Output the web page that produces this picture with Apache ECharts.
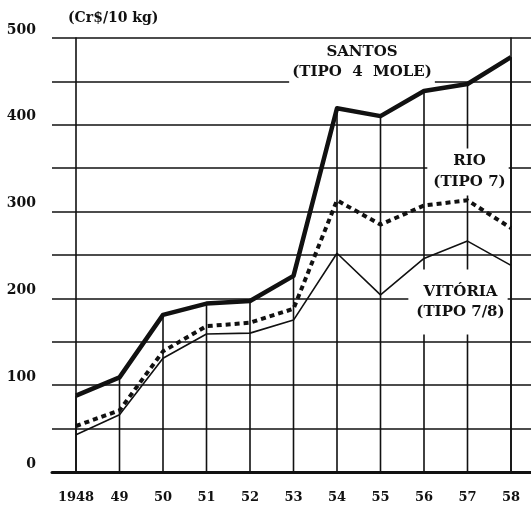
<!DOCTYPE html>
<html><head><meta charset="utf-8">
<script src="https://cdn.jsdelivr.net/npm/echarts@6/dist/echarts.min.js"></script>
<style>html,body{margin:0;padding:0;background:#fff}#c{width:531px;height:507px}</style>
</head><body><div id="c"></div>
<script>
const years = ['1948','49','50','51','52','53','54','55','56','57','58'];
const santos = [88,109,181,194,197,226,419,410,439,447,478];
const rio = [53,71,139,168,172,188,313,285,307,313,281];
const vitoria = [43,66,131,159,160,175,252,204,246,266,238];
const yTickLabels = [0,100,200,300,400,500];
const unitLabel = '(Cr$/10 kg)';
const seriesNames = ['SANTOS\n(TIPO  4  MOLE)','RIO\n(TIPO 7)','VITÓRIA\n(TIPO 7/8)'];

const FONT = 'DejaVu Serif';
const INK = '#111';
const chart = echarts.init(document.getElementById('c'), null, {renderer:'canvas'});
const lab = {fontFamily:FONT,fontWeight:'bold',color:INK};
const option = {
  animation:false,
  backgroundColor:'#fff',
  title:{text:unitLabel,left:68,top:11,padding:0,textStyle:Object.assign({fontSize:14},lab)},
  grid:[
    {left:52,right:0,top:38,bottom:35},
    {left:76,right:20,top:38,bottom:35}
  ],
  xAxis:[
    {gridIndex:0,type:'value',min:0,max:1,axisLine:{show:true,lineStyle:{color:INK,width:3}},axisTick:{show:false},axisLabel:{show:false},splitLine:{show:false}},
    {gridIndex:1,type:'category',data:years,boundaryGap:false,axisLine:{show:false},axisTick:{show:false},
     axisLabel:Object.assign({margin:19,fontSize:13,interval:0},lab),splitLine:{show:false}}
  ],
  yAxis:[
    {gridIndex:0,type:'value',min:0,max:500,interval:50,axisLine:{show:false},axisTick:{show:false},
     splitLine:{show:true,lineStyle:{color:INK,width:1.6}},
     axisLabel:Object.assign({margin:16,fontSize:14,verticalAlign:'bottom',padding:[0,0,1,0],formatter:v=>yTickLabels.includes(v)?String(v):''},lab)},
    {gridIndex:1,type:'value',min:0,max:500,interval:50,position:'left',axisLine:{show:true,lineStyle:{color:INK,width:1.6}},axisTick:{show:false},axisLabel:{show:false},splitLine:{show:false}},
    {gridIndex:1,type:'value',min:0,max:500,interval:50,position:'right',z:3,axisLine:{show:true,lineStyle:{color:INK,width:1.6}},axisTick:{show:false},axisLabel:{show:false},splitLine:{show:false}}
  ],
  series:[
    {type:'bar',xAxisIndex:1,yAxisIndex:1,data:santos,barWidth:1.6,itemStyle:{color:INK},silent:true,z:1},
    {type:'line',name:'VITÓRIA',xAxisIndex:1,yAxisIndex:1,data:vitoria,symbol:'none',lineStyle:{color:INK,width:1.6},z:3},
    {type:'line',name:'RIO',xAxisIndex:1,yAxisIndex:1,data:rio,symbol:'none',lineStyle:{color:INK,width:4,type:[5,4]},z:4},
    {type:'line',name:'SANTOS',xAxisIndex:1,yAxisIndex:1,data:santos,symbol:'none',lineStyle:{color:INK,width:4.5,join:'round'},z:5}
  ],
  graphic:[
    {type:'text',x:362,y:62,z:2,style:{text:seriesNames[0],font:'bold 15px "DejaVu Serif"',fill:INK,align:'center',verticalAlign:'middle',lineHeight:20,backgroundColor:'#fff',padding:[1,3]}},
    {type:'text',x:468,y:172,z:2,style:{text:seriesNames[1],font:'bold 15px "DejaVu Serif"',fill:INK,align:'center',verticalAlign:'middle',lineHeight:21,backgroundColor:'#fff',padding:[3,3,2,6]}},
    {type:'text',x:458,y:302,z:2,style:{text:seriesNames[2],font:'bold 15px "DejaVu Serif"',fill:INK,align:'center',verticalAlign:'middle',lineHeight:20,backgroundColor:'#fff',padding:[20,3,5,8]}}
  ]
};
chart.setOption(option);
</script></body></html>
